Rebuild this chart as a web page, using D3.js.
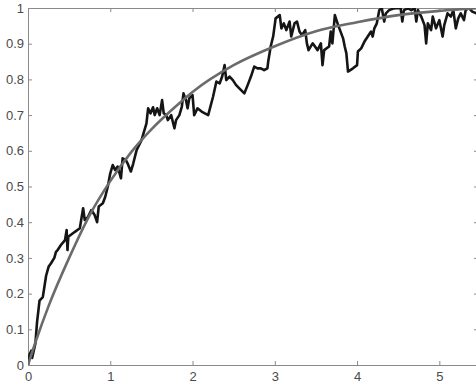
<!DOCTYPE html>
<html><head><meta charset="utf-8">
<script src="https://cdn.jsdelivr.net/npm/d3@7"></script>
<style>
html,body{margin:0;padding:0;background:#fff;}
svg{display:block;}
.axis text{font-family:"Liberation Sans",Arial,sans-serif;font-size:13px;fill:#4a4a4a;}
.axis path,.axis line{stroke:#8a8a8a;stroke-width:1;}
</style>
</head><body>
<svg id="chart" width="476" height="383"></svg>
<script>
// Theoretical (smooth) curve
const curveX = [0, 0.1, 0.25, 0.5, 0.75, 1, 1.25, 1.5, 1.75, 2, 2.5, 3, 3.5, 4, 4.5, 5, 5.5];
const curveY = [0, 0.07, 0.165, 0.30, 0.42, 0.515, 0.595, 0.66, 0.715, 0.765, 0.84, 0.893, 0.935, 0.960, 0.980, 0.992, 1.0];

// Noisy (simulated) trajectory
const walkX = [0.00,0.02,0.04,0.05,0.07,0.09,0.11,0.14,0.18,0.20,0.22,0.25,0.28,0.32,0.34,0.36,0.40,0.45,0.47,0.48,0.49,0.57,0.63,0.67,0.69,0.73,0.77,0.81,0.84,0.86,0.91,0.94,0.97,1.00,1.03,1.06,1.09,1.13,1.15,1.19,1.21,1.25,1.28,1.32,1.38,1.44,1.46,1.49,1.52,1.54,1.57,1.60,1.63,1.65,1.68,1.70,1.74,1.78,1.80,1.84,1.87,1.89,1.92,1.94,1.96,2.00,2.02,2.06,2.11,2.19,2.25,2.29,2.33,2.36,2.39,2.41,2.45,2.49,2.53,2.59,2.63,2.67,2.71,2.75,2.79,2.83,2.87,2.91,2.92,2.95,2.98,3.01,3.06,3.08,3.11,3.14,3.18,3.20,3.24,3.27,3.30,3.33,3.37,3.39,3.41,3.46,3.52,3.56,3.58,3.60,3.66,3.68,3.70,3.73,3.77,3.83,3.85,3.87,3.89,3.95,4.00,4.01,4.05,4.09,4.13,4.17,4.19,4.21,4.24,4.27,4.30,4.33,4.35,4.39,4.45,4.49,4.53,4.55,4.57,4.62,4.66,4.70,4.72,4.74,4.78,4.82,4.84,4.86,4.90,4.92,4.96,5.00,5.04,5.06,5.10,5.14,5.17,5.20,5.23,5.26,5.30,5.32,5.36,5.40,5.45];
const walkY = [0.000,0.030,0.040,0.020,0.040,0.060,0.120,0.180,0.190,0.220,0.250,0.275,0.285,0.300,0.317,0.322,0.336,0.350,0.378,0.322,0.359,0.373,0.383,0.439,0.406,0.415,0.434,0.420,0.400,0.444,0.453,0.472,0.500,0.537,0.560,0.546,0.556,0.523,0.579,0.574,0.565,0.542,0.565,0.602,0.630,0.677,0.719,0.705,0.722,0.700,0.719,0.700,0.742,0.705,0.700,0.686,0.700,0.663,0.686,0.700,0.724,0.761,0.742,0.719,0.747,0.756,0.700,0.719,0.710,0.700,0.752,0.794,0.789,0.808,0.840,0.798,0.808,0.798,0.784,0.770,0.761,0.784,0.808,0.836,0.831,0.831,0.826,0.831,0.850,0.892,0.920,0.971,0.980,0.943,0.957,0.938,0.962,0.920,0.957,0.962,0.934,0.924,0.938,0.901,0.882,0.901,0.882,0.901,0.840,0.882,0.892,0.934,0.901,0.980,0.952,0.915,0.892,0.873,0.822,0.831,0.840,0.878,0.887,0.906,0.920,0.934,0.920,0.943,0.957,0.994,1.000,0.962,0.985,0.994,0.999,1.000,0.999,0.962,0.994,0.999,0.994,1.000,0.962,0.994,0.976,0.952,0.901,0.957,0.938,0.976,0.943,0.966,0.920,0.952,0.985,0.976,0.994,0.943,0.971,0.985,0.966,0.994,1.000,0.990,0.985];

const xTicks = [0, 1, 2, 3, 4, 5];
const yTicks = [0, 0.1, 0.2, 0.3, 0.4, 0.5, 0.6, 0.7, 0.8, 0.9, 1];

const svg = d3.select("#chart");
const mLeft = 28, mRight = 478, mTop = 8, mBottom = 365;
const x = d3.scaleLinear().domain([0, 5.47]).range([mLeft, mRight]);
const y = d3.scaleLinear().domain([0, 1]).range([mBottom, mTop]);

svg.append("defs").append("clipPath").attr("id", "clip")
  .append("rect").attr("x", mLeft).attr("y", mTop).attr("width", mRight - mLeft).attr("height", mBottom - mTop);

const yFmt = d => d === 0 ? "0" : d === 1 ? "1" : d3.format(".1f")(d);

svg.append("g").attr("class", "axis").attr("transform", `translate(0,${mBottom})`)
  .call(d3.axisBottom(x).tickValues(xTicks).tickFormat(d3.format("d")).tickSizeInner(-4).tickSizeOuter(0).tickPadding(7));
svg.append("g").attr("class", "axis").attr("transform", `translate(0,${mTop})`)
  .call(d3.axisTop(x).tickValues(xTicks).tickFormat("").tickSizeInner(-4).tickSizeOuter(0));
svg.append("g").attr("class", "axis").attr("transform", `translate(${mLeft},0)`)
  .call(d3.axisLeft(y).tickValues(yTicks).tickFormat(yFmt).tickSizeInner(-4).tickSizeOuter(0).tickPadding(4));
svg.append("g").attr("class", "axis").attr("transform", `translate(${mRight},0)`)
  .call(d3.axisRight(y).tickValues(yTicks).tickFormat("").tickSizeInner(-4).tickSizeOuter(0));

const plot = svg.append("g").attr("clip-path", "url(#clip)");

const walk = walkX.map((v, i) => [v, walkY[i]]);
plot.append("path").datum(walk)
  .attr("fill", "none").attr("stroke", "#151515").attr("stroke-width", 2.6)
  .attr("stroke-linejoin", "round")
  .attr("d", d3.line().x(d => x(d[0])).y(d => y(d[1])));

const curve = curveX.map((v, i) => [v, curveY[i]]);
plot.append("path").datum(curve)
  .attr("fill", "none").attr("stroke", "#6b6b6b").attr("stroke-width", 2.6)
  .attr("d", d3.line().curve(d3.curveMonotoneX).x(d => x(d[0])).y(d => y(d[1])));
</script>
</body></html>
